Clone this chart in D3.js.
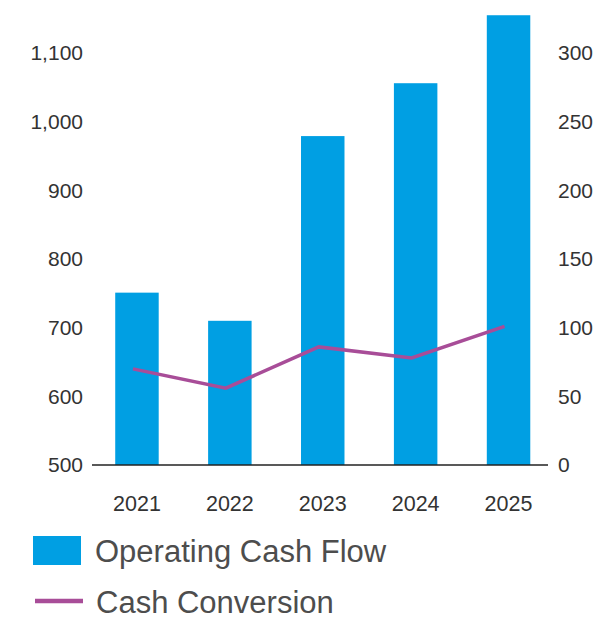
<!DOCTYPE html>
<html>
<head>
<meta charset="utf-8">
<script src="https://cdn.jsdelivr.net/npm/d3@7"></script>
<style>
  body { margin: 0; background: #fff; }
  svg text { font-family: "Liberation Sans", Arial, sans-serif; }
</style>
</head>
<body>
<svg id="chart" width="614" height="621"></svg>
<script>
// values
const years = ['2021', '2022', '2023', '2024', '2025']
const operatingCashFlow = [751, 710, 979, 1056, 1155]
const cashConversion = [70, 56, 86, 78, 101]
const leftTicks = [500, 600, 700, 800, 900, 1000, 1100]
const rightTicks = [0, 50, 100, 150, 200, 250, 300]

const barColor = '#009fe3'
const lineColor = '#a84d98'

const svg = d3.select('#chart')

/* scales */
const x = d3.scaleBand()
  .domain(years)
  .range([92, 553.5])
  .paddingInner(0.532)
  .paddingOuter(0.25)

const yLeft = d3.scaleLinear()
  .domain([500, 1100])
  .range([465, 53])

const yRight = d3.scaleLinear()
  .domain([0, 300])
  .range([465, 53])

/* bars */
svg.append('g')
  .selectAll('rect')
  .data(years)
  .enter().append('rect')
  .attr('x', d => x(d))
  .attr('width', x.bandwidth())
  .attr('y', (d, i) => yLeft(operatingCashFlow[i]))
  .attr('height', (d, i) => yLeft(500) - yLeft(operatingCashFlow[i]))
  .attr('fill', barColor)

/* baseline */
svg.append('line')
  .attr('x1', 92).attr('x2', 548)
  .attr('y1', yLeft(500)).attr('y2', yLeft(500))
  .attr('stroke', '#222')
  .attr('stroke-width', 1.5)

/* cash conversion line */
const line = d3.line()
  .x((d, i) => x(years[i]) + x.bandwidth() / 2 - 4)
  .y(d => yRight(d))

svg.append('path')
  .datum(cashConversion)
  .attr('d', line)
  .attr('fill', 'none')
  .attr('stroke', lineColor)
  .attr('stroke-width', 3.5)

/* left axis */
const fmt = d3.format(',')
const leftAxis = svg.append('g')
  .attr('transform', 'translate(83,0)')
  .call(d3.axisLeft(yLeft).tickValues(leftTicks).tickFormat(fmt).tickSize(0).tickPadding(0))
leftAxis.select('.domain').remove()
leftAxis.selectAll('text')
  .attr('font-size', 21)
  .attr('fill', '#333')

/* right axis */
const rightAxis = svg.append('g')
  .attr('transform', 'translate(558,0)')
  .call(d3.axisRight(yRight).tickValues(rightTicks).tickSize(0).tickPadding(0))
rightAxis.select('.domain').remove()
rightAxis.selectAll('text')
  .attr('font-size', 21)
  .attr('fill', '#333')

/* year labels */
const bottomAxis = svg.append('g')
  .attr('transform', 'translate(0,490)')
  .call(d3.axisBottom(x).tickSize(0).tickPadding(0))
bottomAxis.select('.domain').remove()
bottomAxis.selectAll('text')
  .attr('font-size', 21.5)
  .attr('fill', '#333')
  .attr('dy', '0.35em')
  .attr('y', 13.5)

/* legend */
const legend = svg.append('g')
legend.append('rect')
  .attr('x', 33).attr('y', 536)
  .attr('width', 48).attr('height', 29)
  .attr('fill', barColor)
legend.append('text')
  .attr('x', 95).attr('y', 561.5)
  .attr('font-size', 31)
  .attr('fill', '#4d4d4d')
  .text('Operating Cash Flow')

legend.append('line')
  .attr('x1', 35).attr('x2', 83)
  .attr('y1', 601).attr('y2', 601)
  .attr('stroke', lineColor)
  .attr('stroke-width', 4.5)
legend.append('text')
  .attr('x', 96).attr('y', 613)
  .attr('font-size', 31)
  .attr('fill', '#4d4d4d')
  .text('Cash Conversion')
</script>
</body>
</html>
